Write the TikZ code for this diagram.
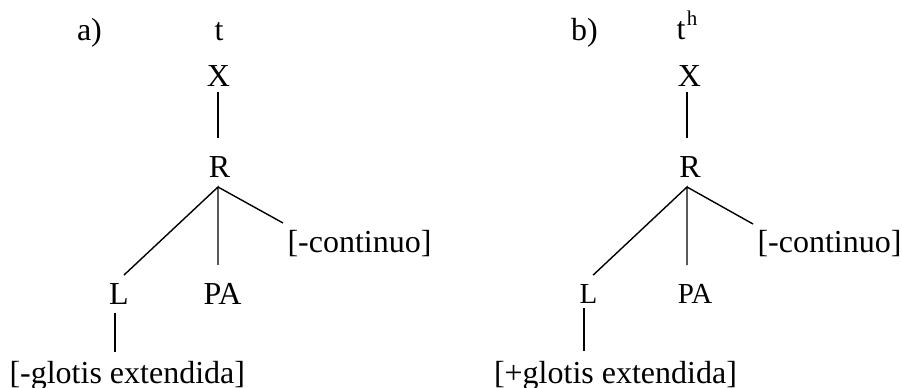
\documentclass[tikz,border=0pt]{standalone}
\usepackage{fontspec}
\setmainfont{Liberation Serif}
\begin{document}
\begin{tikzpicture}[x=1pt,y=-1pt,
  lbl/.style={inner sep=0pt,outer sep=0pt,anchor=base,font=\fontsize{32}{36}\selectfont},
  smalllbl/.style={font=\fontsize{29}{33}\selectfont},
  edge/.style={line width=1.4pt}]
\useasboundingbox (0,0) rectangle (902,388);
% ---------- tree a ----------
\node[lbl,anchor=base west] (la) at (77,40) {a)};
\node[lbl] (lt) at (219,40) {t};
\node[lbl] (lX) at (218.5,86) {X};
\node[lbl] (lR) at (219.5,177) {R};
\node[lbl] (lL) at (119,304) {L};
\node[lbl] (lPA) at (222.5,304) {PA};
\node[lbl,anchor=base west] (lC) at (287.5,252) {{[}-continuo{]}};
\node[lbl,anchor=base west] (lG) at (9.5,383) {{[}-glotis extendida{]}};
\coordinate (lXs) at ([shift={(-0.5pt,-6pt)}]lX.south);
\coordinate (lRt) at ([yshift=18pt]lR.north);
\coordinate (lRs) at ([yshift=-10pt]lR.south);
\coordinate (lA) at (lXs |- lRs);
\coordinate (lLt) at ([shift={(5pt,8pt)}]lL.north);
\coordinate (lPt) at ([yshift=18pt]lPA.north);
\coordinate (lCt) at ([shift={(-4.5pt,29pt)}]lC.base west);
\coordinate (lLs) at ([shift={(-4pt,-9pt)}]lL.south);
\coordinate (lGt) at ([yshift=9pt]lG.north);
\draw[edge] (lXs) -- (lXs |- lRt);
\draw[edge] (lLt) -- (lA) -- (lA |- lPt);
\draw[edge] (lA) -- (lCt);
\draw[edge] (lLs) -- (lLs |- lGt);
% ---------- tree b ----------
\node[lbl,anchor=base west] (rb) at (571,40) {b)};
\node[lbl,anchor=base west] (rt) at (676.5,39.5) {t\kern1.5pt\raisebox{14pt}{\fontsize{21}{22}\selectfont h}};
\node[lbl] (rX) at (689.5,86) {X};
\node[lbl] (rR) at (690,177) {R};
\node[lbl,smalllbl] (rL) at (588.5,303) {L};
\node[lbl,smalllbl] (rPA) at (695,303) {PA};
\node[lbl,anchor=base west] (rC) at (757.5,252) {{[}-continuo{]}};
\node[lbl,anchor=base west] (rG) at (494,383) {{[}+glotis extendida{]}};
\coordinate (rXs) at ([shift={(-2.5pt,-6pt)}]rX.south);
\coordinate (rRt) at ([yshift=18pt]rR.north);
\coordinate (rRs) at ([yshift=-10pt]rR.south);
\coordinate (rA) at (rXs |- rRs);
\coordinate (rLt) at ([shift={(4.5pt,8.8pt)}]rL.north);
\coordinate (rPt) at ([yshift=18.8pt]rPA.north);
\coordinate (rCt) at ([shift={(-4.5pt,28pt)}]rC.base west);
\coordinate (rLs) at ([shift={(-4.5pt,-5pt)}]rL.south);
\coordinate (rGt) at ([yshift=10pt]rG.north);
\draw[edge] (rXs) -- (rXs |- rRt);
\draw[edge] (rLt) -- (rA) -- (rA |- rPt);
\draw[edge] (rA) -- (rCt);
\draw[edge] (rLs) -- (rLs |- rGt);
\end{tikzpicture}
\end{document}
